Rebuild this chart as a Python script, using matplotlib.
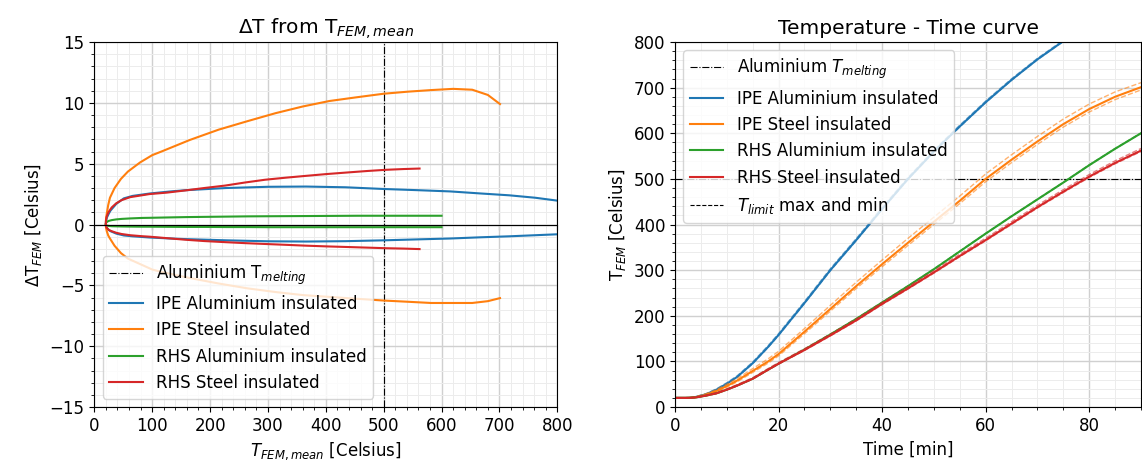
import matplotlib
matplotlib.use("Agg")
import matplotlib.pyplot as plt
from matplotlib.ticker import AutoMinorLocator, MultipleLocator
import numpy as np

plt.rcParams['font.size'] = 12

T_MELT_AL = 500

labels = ["IPE Aluminium insulated", "IPE Steel insulated",
          "RHS Aluminium insulated", "RHS Steel insulated"]
colors = ["C0", "C1", "C2", "C3"]

# time [min]
time_min = [0, 2, 3, 4, 5, 6, 8, 10, 12, 15, 18, 20, 25, 30, 35, 40, 45,
            50, 55, 60, 65, 70, 75, 80, 85, 90]

# IPE Aluminium insulated (leaves the chart after 80 min)
ipe_al_T = [20, 20, 20.5, 22, 25, 28, 38, 51, 66, 96, 132, 158, 228, 300, 366,
            434, 500, 560, 615, 668, 717, 762, 802, 838]
ipe_al_dmax = [0, 0.2, 0.35, 0.6, 0.9, 1.15, 1.7, 2.15, 2.35, 2.55, 2.72, 2.82,
               3.0, 3.1, 3.12, 3.06, 2.92, 2.82, 2.72, 2.55, 2.4, 2.2, 1.95, 1.8]
ipe_al_dmin = [0, -0.1, -0.15, -0.3, -0.45, -0.55, -0.75, -0.9, -0.97, -1.07,
               -1.15, -1.2, -1.3, -1.38, -1.4, -1.37, -1.3, -1.22, -1.15, -1.05,
               -0.97, -0.88, -0.8, -0.75]

# IPE Steel insulated
ipe_st_T = [20, 20, 20.3, 21.5, 24, 27, 35, 46, 58, 79, 100, 116, 165, 215, 265,
            313, 360, 406, 452, 500, 542, 582, 620, 653, 680, 701]
ipe_st_dmax = [0, 0.3, 0.5, 0.9, 1.6, 2.2, 3.0, 3.75, 4.35, 5.1, 5.7, 6.0, 6.95,
               7.8, 8.5, 9.15, 9.7, 10.15, 10.45, 10.75, 10.92, 11.05, 11.15,
               11.08, 10.65, 9.9]
ipe_st_dmin = [0, -0.15, -0.3, -0.55, -0.9, -1.15, -1.75, -2.35, -2.8, -3.25,
               -3.7, -3.9, -4.4, -4.85, -5.25, -5.55, -5.8, -5.95, -6.1, -6.25,
               -6.35, -6.45, -6.45, -6.45, -6.3, -6.05]

# RHS Aluminium insulated
rhs_al_T = [20, 20, 20.2, 21, 23, 25, 30, 38, 47, 62, 82, 95, 126, 159, 193,
            229, 265, 302, 341, 380, 418, 455, 492, 530, 566, 600]
rhs_al_dmax = [0, 0.08, 0.12, 0.18, 0.25, 0.3, 0.36, 0.42, 0.46, 0.5, 0.54,
               0.55, 0.58, 0.61, 0.63, 0.65, 0.67, 0.68, 0.69, 0.7, 0.71, 0.72,
               0.72, 0.72, 0.72, 0.72]
rhs_al_dmin = [0, -0.03, -0.05, -0.08, -0.1, -0.12, -0.14, -0.15, -0.16, -0.17,
               -0.18, -0.18, -0.19, -0.2, -0.2, -0.21, -0.21, -0.22, -0.22,
               -0.22, -0.22, -0.22, -0.22, -0.22, -0.22, -0.22]

# RHS Steel insulated
rhs_st_T = [20, 20, 20.2, 21, 23, 25, 30, 38, 47, 62, 82, 95, 125, 157, 190,
            226, 260, 295, 331, 366, 402, 438, 472, 505, 535, 562]
rhs_st_dmax = [0, 0.2, 0.35, 0.6, 0.85, 1.05, 1.4, 1.75, 2.0, 2.25, 2.4, 2.5,
               2.62, 2.8, 3.0, 3.2, 3.45, 3.68, 3.85, 4.0, 4.15, 4.28, 4.4, 4.5,
               4.56, 4.6]
rhs_st_dmin = [0, -0.08, -0.15, -0.25, -0.35, -0.45, -0.55, -0.68, -0.78, -0.88,
               -0.96, -1.0, -1.12, -1.25, -1.36, -1.45, -1.53, -1.6, -1.67,
               -1.74, -1.8, -1.85, -1.9, -1.95, -1.98, -2.02]

T_mean = [ipe_al_T, ipe_st_T, rhs_al_T, rhs_st_T]
dT_max = [ipe_al_dmax, ipe_st_dmax, rhs_al_dmax, rhs_st_dmax]
dT_min = [ipe_al_dmin, ipe_st_dmin, rhs_al_dmin, rhs_st_dmin]


def style_axes(ax):
    ax.minorticks_on()
    ax.grid(True, which='major', color='#d0d0d0', lw=1.0)
    ax.grid(True, which='minor', color='#ececec', lw=0.7)
    ax.set_axisbelow(True)


fig = plt.figure(figsize=(11.42, 4.69), dpi=100)
ax1 = fig.add_axes([0.0826, 0.1322, 0.4054, 0.7782])
ax2 = fig.add_axes([0.5911, 0.1322, 0.408, 0.7782])

# ---- left: delta T vs mean T
melt1 = ax1.axvline(T_MELT_AL, color='k', ls='-.', lw=0.8,
                    label="Aluminium T$_{melting}$")
handles1 = [melt1]
for T, dmax, dmin, lab, c in zip(T_mean, dT_max, dT_min, labels, colors):
    h, = ax1.plot(T, dmax, color=c, lw=1.5, label=lab)
    ax1.plot(T, dmin, color=c, lw=1.5)
    handles1.append(h)

ax1.set_xlim(0, 800)
ax1.set_ylim(-15, 15)
style_axes(ax1)
# zero line with its own tick marks
ax1.axhline(0, color='k', lw=0.8, zorder=2.6)
sec = ax1.secondary_xaxis(0, transform=ax1.transData)
sec.xaxis.set_minor_locator(AutoMinorLocator())
sec.tick_params(axis='x', which='both', labelbottom=False, labeltop=False)
ax1.set_title("ΔT from T$_{FEM,mean}$", fontsize=14.5)
ax1.set_xlabel("$T_{FEM,mean}$ [Celsius]")
ax1.set_ylabel("ΔT$_{FEM}$ [Celsius]")
ax1.legend(handles=handles1, loc='lower left')

# ---- right: temperature - time
melt2 = ax2.axhline(T_MELT_AL, color='k', ls='-.', lw=0.8,
                    label="Aluminium $T_{melting}$")
handles2 = [melt2]
for T, dmax, dmin, lab, c in zip(T_mean, dT_max, dT_min, labels, colors):
    t = np.array(time_min[:len(T)])
    T = np.array(T)
    h, = ax2.plot(t, T, color=c, lw=1.5, label=lab)
    ax2.plot(t, T + np.array(dmax), color=c, ls='--', lw=1.0, alpha=0.6)
    ax2.plot(t, T + np.array(dmin), color=c, ls='--', lw=1.0, alpha=0.6)
    handles2.append(h)
lim_h, = ax2.plot([], [], color='k', ls='--', lw=0.8,
                  label="$T_{limit}$ max and min")
handles2.append(lim_h)

ax2.set_xlim(0, 90)
ax2.set_ylim(0, 800)
style_axes(ax2)
ax2.xaxis.set_major_locator(MultipleLocator(20))
ax2.xaxis.set_minor_locator(AutoMinorLocator(4))
ax2.set_title("Temperature - Time curve", fontsize=14.5)
ax2.set_xlabel("Time [min]")
ax2.set_ylabel("T$_{FEM}$ [Celsius]")
ax2.legend(handles=handles2, loc='upper left')

fig.savefig("out.png", dpi=100)
